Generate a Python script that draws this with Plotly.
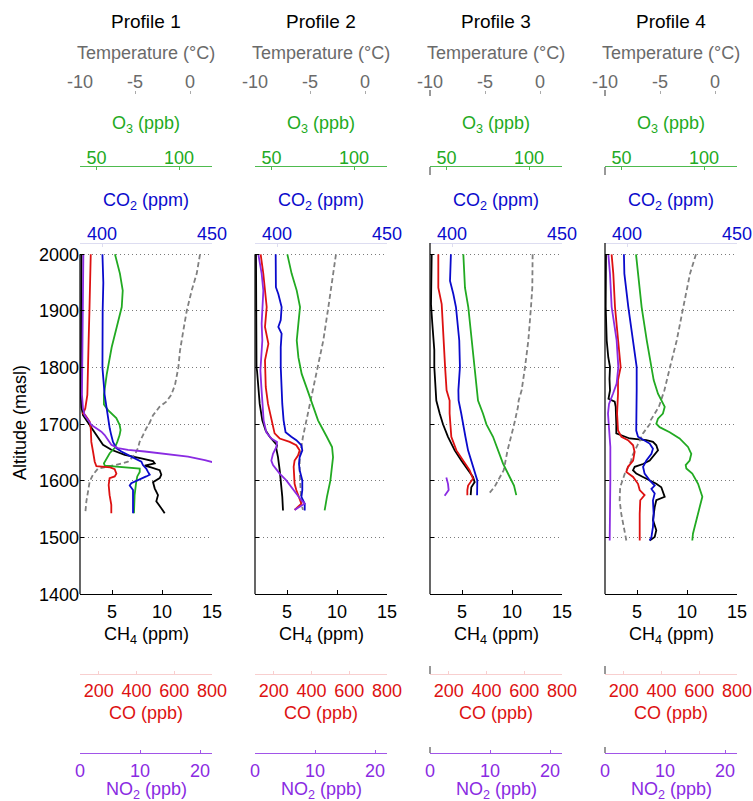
import plotly.graph_objects as go

# ------------------------------------------------------------------ data
PROFILE_TITLES = ["Profile 1", "Profile 2", "Profile 3", "Profile 4"]
ALT_TICKS = [1400, 1500, 1600, 1700, 1800, 1900, 2000]

# ---- Profile 1
P1_T_ALT = [2000, 1966, 1936, 1900, 1865, 1830, 1800, 1770, 1752, 1740, 1731, 1716, 1699, 1693, 1681, 1669, 1658, 1646, 1634, 1628, 1622, 1611, 1599, 1581, 1564, 1543]
P1_T = [0.91, 0.61, 0.15, -0.30, -0.61, -0.91, -1.06, -1.36, -1.70, -2.15, -2.76, -3.36, -3.76, -3.97, -4.27, -4.58, -4.73, -5.03, -5.64, -6.8, -8.36, -8.82, -9.12, -9.27, -9.42, -9.52]
P1_O3_ALT = [2000, 1966, 1936, 1907, 1871, 1836, 1788, 1752, 1735, 1725, 1711, 1699, 1690, 1681, 1669, 1658, 1649, 1640, 1631, 1627, 1624, 1622, 1616, 1608, 1599, 1575, 1543]
P1_O3 = [61.2, 64.2, 65.9, 65.3, 62.2, 59.2, 56.2, 54.5, 54.5, 57.0, 62.0, 64.0, 64.6, 64.0, 62.6, 61.0, 58.0, 56.0, 54.5, 55.0, 67.1, 76.2, 76.2, 74.7, 74.1, 73.1, 72.7]
P1_CO2_ALT = [2000, 1950, 1900, 1850, 1800, 1752, 1728, 1716, 1705, 1693, 1681, 1669, 1658, 1652, 1643, 1634, 1628, 1622, 1616, 1611, 1608, 1602, 1596, 1592, 1584, 1569, 1543]
P1_CO2 = [400.2, 400.6, 400.3, 400.1, 400.2, 401.2, 402.0, 402.7, 403.0, 403.5, 404.2, 405.0, 406.5, 408.8, 413.3, 417.9, 418.6, 420.1, 420.9, 421.7, 420.1, 416.4, 413.3, 412.6, 414.1, 414.1, 414.1]
P1_CH4_ALT = [2000, 1950, 1900, 1850, 1800, 1752, 1730, 1716, 1699, 1687, 1675, 1664, 1655, 1646, 1640, 1635, 1631, 1627, 1624, 1619, 1611, 1605, 1598, 1587, 1575, 1564, 1552, 1543]
P1_CH4 = [1.95, 1.95, 1.9, 1.9, 1.9, 1.87, 1.95, 2.1, 2.77, 3.27, 3.67, 4.1, 4.93, 6.27, 7.93, 9.1, 9.27, 8.27, 8.9, 9.77, 9.93, 9.77, 9.1, 9.27, 9.6, 9.43, 9.93, 10.27]
P1_CO_ALT = [2000, 1950, 1900, 1850, 1800, 1752, 1728, 1719, 1716, 1705, 1693, 1669, 1652, 1634, 1626, 1624, 1621, 1613, 1608, 1605, 1593, 1575, 1558, 1543]
P1_CO = [157, 155, 150, 146, 144, 139, 128, 116, 128, 151, 157, 160, 169, 178, 187, 260, 284, 293, 284, 257, 252, 257, 266, 266]
P1_NO2_ALT = [2000, 1950, 1900, 1850, 1800, 1752, 1728, 1716, 1708, 1699, 1693, 1687, 1681, 1672, 1664, 1658, 1655, 1652, 1647, 1643, 1637, 1633]
P1_NO2 = [0.56, 0.5, 0.44, 0.4, 0.39, 0.33, 0.5, 0.78, 1.33, 1.89, 2.72, 3.56, 4.11, 4.67, 5.22, 6.33, 8.0, 10.8, 14.7, 18.0, 20.8, 22.2]

# ---- Profile 2
P2_T_ALT = [2000, 1966, 1907, 1848, 1798, 1766, 1736, 1707, 1678, 1660, 1642, 1619, 1590, 1560, 1549]
P2_T = [-2.64, -2.88, -3.33, -3.79, -4.33, -4.73, -5.03, -5.33, -5.64, -5.79, -5.94, -5.94, -5.88, -5.79, -5.64]
P2_O3_ALT = [2000, 1966, 1936, 1907, 1878, 1848, 1818, 1789, 1766, 1736, 1707, 1678, 1660, 1642, 1625, 1601, 1572, 1548]
P2_O3 = [59.6, 62.2, 65.3, 67.3, 66.3, 65.3, 66.3, 68.3, 71.1, 74.7, 78.2, 83.5, 86.7, 87.3, 86.5, 85.7, 83.6, 82.2]
P2_CO2_ALT = [2000, 1942, 1930, 1907, 1884, 1872, 1860, 1836, 1801, 1766, 1736, 1707, 1686, 1678, 1672, 1663, 1654, 1642, 1630, 1619, 1601, 1584, 1572, 1560, 1548]
P2_CO2 = [399.4, 399.5, 400.6, 402.1, 401.7, 400.6, 402.1, 401.7, 401.7, 402.0, 402.4, 403.0, 403.9, 406.5, 408.8, 411.1, 411.5, 410.3, 410.0, 410.3, 411.5, 411.5, 411.1, 412.6, 412.6]
P2_CH4_ALT = [2000, 1900, 1800, 1795, 1766, 1736, 1707, 1689, 1678, 1669, 1663, 1657, 1642, 1619, 1595, 1572, 1548]
P2_CH4 = [1.9, 1.9, 1.95, 2.0, 2.1, 2.27, 2.53, 2.87, 3.27, 3.77, 4.0, 3.93, 4.1, 4.27, 4.43, 4.53, 4.6]
P2_CO_ALT = [2000, 1966, 1907, 1872, 1842, 1813, 1789, 1766, 1736, 1718, 1701, 1684, 1675, 1669, 1663, 1654, 1645, 1636, 1625, 1607, 1595, 1584, 1569, 1560, 1549]
P2_CO = [130, 144, 162, 153, 171, 153, 155, 157, 169, 181, 192, 204, 231, 284, 319, 337, 328, 310, 305, 310, 310, 319, 337, 346, 310]
P2_NO2_ALT = [2000, 1966, 1936, 1907, 1878, 1848, 1818, 1795, 1766, 1736, 1707, 1686, 1675, 1669, 1660, 1648, 1636, 1628, 1613, 1601, 1589, 1578, 1566, 1560, 1555, 1549]
P2_NO2 = [0.56, 1.11, 1.39, 1.28, 1.11, 1.22, 1.0, 0.9, 1.06, 1.22, 1.44, 1.89, 2.72, 3.67, 3.56, 3.0, 2.72, 3.0, 4.11, 5.22, 6.06, 6.89, 7.72, 8.28, 7.44, 6.61]

# ---- Profile 3
P3_T_ALT = [2000, 1941, 1907, 1848, 1801, 1760, 1742, 1731, 1700, 1672, 1654, 1619, 1601, 1590, 1576]
P3_T = [-0.67, -0.70, -0.82, -1.06, -1.36, -1.67, -1.94, -2.0, -2.35, -2.7, -2.95, -3.3, -3.8, -4.12, -4.72]
P3_O3_ALT = [2000, 1941, 1907, 1848, 1789, 1742, 1719, 1700, 1678, 1654, 1631, 1607, 1592, 1575]
P3_O3 = [60.2, 61.2, 63.2, 65.3, 67.3, 69.1, 72.1, 74.2, 78.2, 81.2, 84.2, 88.3, 90.9, 92.3]
P3_CO2_ALT = [2000, 1953, 1930, 1907, 1848, 1801, 1760, 1742, 1719, 1700, 1678, 1654, 1636, 1619, 1601, 1575]
P3_CO2 = [399.5, 399.1, 400.6, 401.8, 403.3, 403.6, 402.9, 403.0, 404.2, 405.0, 406.1, 407.3, 408.8, 410.3, 411.5, 411.4]
P3_CH4_ALT = [2000, 1941, 1912, 1878, 1860, 1831, 1801, 1760, 1742, 1719, 1700, 1678, 1654, 1636, 1619, 1607, 1598, 1589, 1575]
P3_CH4 = [1.97, 1.97, 1.9, 2.03, 2.13, 2.23, 2.23, 2.37, 2.43, 2.77, 3.1, 3.6, 4.27, 4.93, 5.6, 6.1, 6.27, 5.93, 5.87]
P3_CO_ALT = [2000, 1941, 1912, 1878, 1848, 1801, 1760, 1742, 1719, 1700, 1678, 1654, 1636, 1619, 1604, 1592, 1584, 1575]
P3_CO = [144, 144, 162, 167, 171, 180, 188, 204, 204, 210, 213, 240, 275, 310, 328, 302, 298, 298]
P3_NO2_ALT = [1606, 1595, 1584, 1578, 1574]
P3_NO2 = [2.72, 3.0, 3.11, 2.72, 2.44]

# ---- Profile 4
P4_T_ALT = [2000, 1966, 1907, 1848, 1801, 1778, 1760, 1731, 1707, 1701, 1684, 1672, 1660, 1642, 1636, 1613, 1589, 1566, 1542, 1519, 1495]
P4_T = [-1.73, -2.27, -2.88, -3.48, -4.09, -4.36, -4.6, -5.1, -5.85, -5.9, -6.55, -6.82, -7.15, -7.58, -7.61, -8.2, -8.62, -8.67, -8.52, -8.3, -8.06]
P4_O3_ALT = [2000, 1966, 1907, 1848, 1801, 1778, 1754, 1739, 1731, 1719, 1710, 1701, 1695, 1686, 1675, 1660, 1648, 1636, 1628, 1622, 1613, 1595, 1578, 1572, 1554, 1531, 1507, 1495]
P4_O3 = [58.8, 60.2, 62.2, 65.3, 68.3, 69.5, 72.1, 74.7, 76.2, 75.1, 72.1, 71.1, 73.1, 79.2, 85.2, 90.3, 92.3, 91.3, 88.9, 89.3, 92.9, 96.4, 98.4, 99.0, 97.4, 95.3, 93.3, 92.9]
P4_CO2_ALT = [2000, 1966, 1907, 1848, 1801, 1760, 1719, 1689, 1678, 1672, 1666, 1657, 1648, 1636, 1625, 1613, 1601, 1592, 1586, 1578, 1566, 1542, 1519, 1501, 1495]
P4_CO2 = [398.6, 398.8, 400.6, 402.9, 404.4, 404.4, 404.2, 404.2, 405.0, 408.0, 410.3, 411.8, 411.1, 408.8, 407.3, 408.0, 410.3, 412.6, 411.1, 412.6, 411.8, 412.1, 411.8, 411.1, 410.3]
P4_CH4_ALT = [2000, 1941, 1907, 1848, 1818, 1801, 1780, 1760, 1745, 1740, 1731, 1700, 1684, 1675, 1672, 1669, 1663, 1654, 1642, 1636, 1630, 1625, 1619, 1613, 1607, 1601, 1595, 1589, 1580, 1572, 1566, 1554, 1531, 1513, 1501, 1495]
P4_CH4 = [1.9, 1.87, 1.87, 1.97, 2.13, 2.3, 2.25, 2.3, 2.15, 2.77, 2.87, 2.93, 2.93, 4.27, 5.93, 6.6, 6.93, 7.1, 6.6, 6.27, 5.6, 4.77, 4.6, 4.93, 5.6, 6.27, 6.93, 7.43, 7.6, 7.77, 6.93, 6.77, 6.6, 6.93, 6.77, 6.27]
P4_CO_ALT = [2000, 1966, 1907, 1848, 1801, 1778, 1754, 1719, 1689, 1678, 1672, 1663, 1651, 1636, 1625, 1616, 1607, 1595, 1584, 1575, 1566, 1542, 1519, 1495]
P4_CO = [135, 144, 153, 171, 183, 169, 169, 164, 169, 187, 222, 249, 257, 249, 222, 213, 249, 275, 284, 310, 287, 284, 284, 284]
P4_NO2_ALT = [2000, 1966, 1907, 1848, 1801, 1772, 1754, 1736, 1719, 1660, 1601, 1542, 1495]
P4_NO2 = [0.56, 0.83, 1.11, 1.94, 2.22, 1.94, 1.33, 0.67, 0.5, 0.89, 0.89, 0.78, 0.78]

G = globals()

# ------------------------------------------------------------------ layout helpers
W, H = 753, 801
FONT = "Liberation Sans, Arial, Helvetica, sans-serif"


def fx(px):
    return px / W


def fy(py):
    return 1 - py / H


PANEL_LEFT = [80, 255, 430, 605]
PANEL_W = 132
PLOT_TOP, PLOT_BOT = 243, 594.3
Y_DOMAIN = [fy(PLOT_BOT), fy(PLOT_TOP)]

C_T = "#808080"
C_O3 = "#22aa22"
C_CO2 = "#0a0acc"
C_CH4 = "#000000"
C_CO = "#dd1111"
C_NO2 = "#8a2be2"

# key, offset, color, range, tickvals, ticktext, side, line y(px), line color, label standoff
SERIES = [
    ("T", 1, C_T, [-10, 2], [-10, -5, 0], ["-10", "-5", "0"], "top", 90, "rgba(0,0,0,0)", -5),
    ("O3", 2, C_O3, [40, 120], [50, 100], None, "top", 166, "rgba(34,170,34,0.8)", -5),
    ("CO2", 3, C_CO2, [390, 450], [400, 450], None, "top", 243, "rgba(120,120,200,0.25)", -4),
    ("CH4", 0, C_CH4, [1.8, 15], [5, 10, 15], None, "bottom", PLOT_BOT, "#000000", 1),
    ("CO", 4, C_CO, [100, 800], [200, 400, 600, 800], None, "bottom", 674, "rgba(221,17,17,0.2)", 0),
    ("NO2", 5, C_NO2, [0, 22], [0, 10, 20], None, "bottom", 753, "rgba(138,43,226,0.8)", 1),
]
SERIES_COL = {s[0]: s[2] for s in SERIES}
DRAW_ORDER = ["T", "O3", "CO2", "CO", "CH4", "NO2"]

fig = go.Figure()
layout = {}
shapes = []
annotations = []

for p in range(4):
    yname = "y" if p == 0 else f"y{p + 1}"
    ykey = "yaxis" if p == 0 else f"yaxis{p + 1}"
    dom = [fx(PANEL_LEFT[p]), fx(PANEL_LEFT[p] + PANEL_W)]
    base_idx = 6 * p + 1
    base_name = "x" if base_idx == 1 else f"x{base_idx}"

    layout[ykey] = dict(
        domain=Y_DOMAIN, range=[1400, 2020], anchor=base_name, automargin=False,
        tickvals=ALT_TICKS, showticklabels=(p == 0), ticks="inside", ticklen=4,
        tickcolor="#000", showline=False, zeroline=False,
        showgrid=True, gridcolor="#7a7a7a", griddash="1px,3px", gridwidth=1,
        tickfont=dict(family=FONT, size=18, color="#000"), fixedrange=True,
    )

    axis_of = {}
    for key, off, col, rng, tv, tt, side, ly, lcol, stand in SERIES:
        idx = base_idx + off
        name = "x" if idx == 1 else f"x{idx}"
        akey = "xaxis" if idx == 1 else f"xaxis{idx}"
        axis_of[key] = name
        ax = dict(
            domain=dom, range=rng, tickvals=tv, side=side, automargin=False,
            showgrid=False, zeroline=False, showline=True, linecolor=lcol,
            linewidth=1, ticks="inside", ticklen=3, ticklabelstandoff=stand,
            tickcolor=lcol if key != "T" else "#aaaaaa",
            tickfont=dict(family=FONT, size=18, color=col if key != "T" else "#6a6a6a"),
            fixedrange=True,
        )
        if tt is not None:
            ax["ticktext"] = tt
        if off == 0:
            ax["anchor"] = yname
            ax["tickcolor"] = "#000"
            ax["ticklen"] = 4
        else:
            ax["anchor"] = "free"
            ax["position"] = fy(ly)
            ax["overlaying"] = base_name
        layout[akey] = ax

    for key in DRAW_ORDER:
        nm = f"P{p + 1}_{key}"
        if nm not in G:
            continue
        alts = G[nm + "_ALT"]
        vals = G[nm]
        fig.add_trace(go.Scatter(
            x=vals, y=alts, xaxis=axis_of[key], yaxis=yname, mode="lines",
            line=dict(color=SERIES_COL[key], width=1.8,
                      dash="5px,3px" if key == "T" else "solid"),
            showlegend=False, hoverinfo="skip",
        ))

    # left axis line of each panel
    ytop = 2000 if p < 2 else 2020
    shapes.append(dict(type="line", xref=f"{base_name} domain", yref=yname,
                       x0=0, x1=0, y0=1400, y1=ytop, line=dict(color="#000", width=1.2)))
    if p >= 2:
        for a, b in [(90, 96), (167, 175), (666, 674), (747, 753)]:
            shapes.append(dict(type="line", xref="paper", yref="paper",
                               x0=fx(PANEL_LEFT[p]), x1=fx(PANEL_LEFT[p]),
                               y0=fy(a), y1=fy(b), line=dict(color="#333", width=1)))

    cx = fx(PANEL_LEFT[p] + PANEL_W / 2)
    titles = [
        (PROFILE_TITLES[p], 22, "#000", 19),
        ("Temperature (°C)", 53, "#6a6a6a", 18),
        ("O<sub>3</sub> (ppb)", 125, C_O3, 18),
        ("CO<sub>2</sub> (ppm)", 202, C_CO2, 18),
        ("CH<sub>4</sub> (ppm)", 635, "#000", 18),
        ("CO (ppb)", 713, C_CO, 18),
        ("NO<sub>2</sub> (ppb)", 790, C_NO2, 18),
    ]
    for txt, yy, col, sz in titles:
        annotations.append(dict(text=txt, x=cx, y=fy(yy), xref="paper", yref="paper",
                                xanchor="center", yanchor="middle", showarrow=False,
                                font=dict(family=FONT, size=sz, color=col)))

annotations.append(dict(text="Altitude (masl)", x=fx(20), y=fy(423), xref="paper", yref="paper",
                        xanchor="center", yanchor="middle", showarrow=False, textangle=-90,
                        font=dict(family=FONT, size=18, color="#000")))

fig.update_layout(
    width=W, height=H, margin=dict(l=0, r=0, t=0, b=0, autoexpand=False),
    paper_bgcolor="white", plot_bgcolor="white",
    shapes=shapes, annotations=annotations, showlegend=False,
    **layout,
)

fig.write_html("out.html")
